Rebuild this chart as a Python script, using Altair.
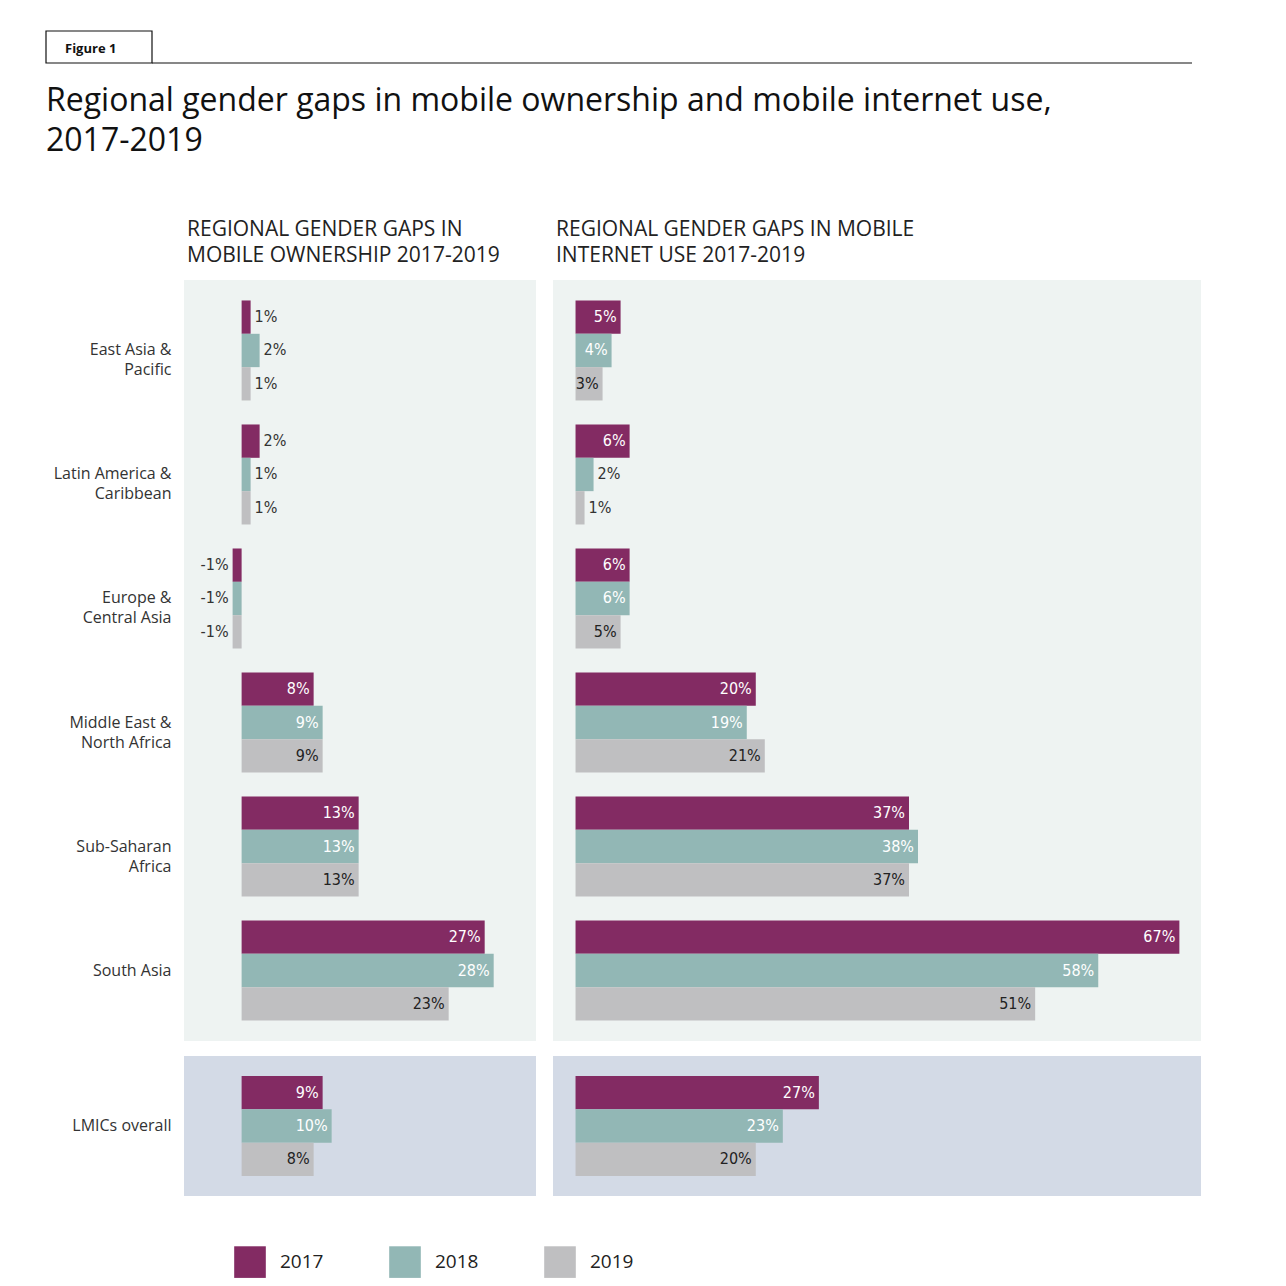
import altair as alt
import pandas as pd

regions = ["East Asia &|Pacific", "Latin America &|Caribbean", "Europe &|Central Asia",
           "Middle East &|North Africa", "Sub-Saharan|Africa", "South Asia"]
years = ["2017", "2018", "2019"]
own = {"2017": [1, 2, -1, 8, 13, 27], "2018": [2, 1, -1, 9, 13, 28], "2019": [1, 1, -1, 9, 13, 23]}
net = {"2017": [5, 6, 6, 20, 37, 67], "2018": [4, 2, 6, 19, 38, 58], "2019": [3, 1, 5, 21, 37, 51]}
lmic_label = "LMICs overall"
lmic_own = [9, 10, 8]
lmic_net = [27, 23, 20]
colors = ["#832b63", "#92b7b5", "#bfbfc1"]
FONT = "Open Sans"
NUMFONT = "Liberation Sans Narrow, DejaVu Sans Condensed, sans-serif"


def frame(vals, regs):
    rows = []
    for y in years:
        for r, v in zip(regs, vals[y]):
            rows.append({"region": r, "year": y, "v": v, "label": f"{v}%"})
    return pd.DataFrame(rows)


def panel(df, domain, width, height, show_axis, title, step_pad, fill, legend=False):
    pi, po = step_pad
    order = list(dict.fromkeys(df["region"]))
    yenc = alt.Y("region:N", sort=order,
                 scale=alt.Scale(paddingInner=pi, paddingOuter=po),
                 axis=alt.Axis(title=None, domain=False, ticks=False, labelFontSize=16,
                               labelFont=FONT, labelColor="#333", labelPadding=13,
                               labelExpr="split(datum.label, '|')", labelLineHeight=20)
                 if show_axis else None)
    xenc = alt.X("v:Q", scale=alt.Scale(domain=domain, nice=False, zero=True), axis=None)
    yoff = alt.YOffset("year:N", sort=years)
    base = alt.Chart(df)
    bars = base.mark_bar().encode(
        x=xenc, y=yenc, yOffset=yoff,
        color=alt.Color("year:N", scale=alt.Scale(domain=years, range=colors),
                        legend=alt.Legend(title=None, orient="bottom", direction="horizontal",
                                          symbolType="square", symbolSize=1000,
                                          symbolStrokeWidth=0, labelFontSize=19,
                                          labelFont=FONT, labelColor="#222",
                                          columnPadding=65, labelOffset=14, offset=0,
                                          padding=50, symbolOffset=0)
                        if legend else None),
    )
    thr = 3
    inside = base.transform_filter(f"abs(datum.v) >= {thr}").mark_text(
        align="right", dx=-4, font=NUMFONT, fontSize=16).encode(
        x=xenc, y=yenc, yOffset=yoff, text="label:N",
        color=alt.condition("datum.year == '2019'", alt.value("#222"), alt.value("white")))
    outp = base.transform_filter(f"datum.v > 0 && datum.v < {thr}").mark_text(
        align="left", dx=4, font=NUMFONT, fontSize=16, color="#333").encode(
        x=xenc, y=yenc, yOffset=yoff, text="label:N")
    outn = base.transform_filter(f"datum.v < 0 && datum.v > -{thr}").mark_text(
        align="right", dx=-4, font=NUMFONT, fontSize=16, color="#333").encode(
        x=xenc, y=yenc, yOffset=yoff, text="label:N")
    props = dict(width=width, height=height, view=alt.ViewBackground(fill=fill, stroke=None))
    if title:
        props["title"] = alt.TitleParams(title, anchor="start", frame="group", fontSize=21,
                                         font=FONT, fontWeight="normal", color="#222",
                                         offset=14, dx=3, lineHeight=26)
    return alt.layer(bars, inside, outp, outn).properties(**props)


top_own = frame(own, regions)
top_net = frame(net, regions)
bot_own = frame({y: [lmic_own[i]] for i, y in enumerate(years)}, [lmic_label])
bot_net = frame({y: [lmic_net[i]] for i, y in enumerate(years)}, [lmic_label])

LDOM = [-6.4, 32.7]
RDOM = [-2.5, 69.4]
top_pad = (0.1935, 0.165)
bot_pad = (0.0, 0.2)
TOPF = "#eef3f2"
BOTF = "#d3dae6"

top = alt.hconcat(
    panel(top_own, LDOM, 352, 761, True, ["REGIONAL GENDER GAPS IN", "MOBILE OWNERSHIP 2017-2019"], top_pad, TOPF, legend=True),
    panel(top_net, RDOM, 648, 761, False, ["REGIONAL GENDER GAPS IN MOBILE", "INTERNET USE 2017-2019"], top_pad, TOPF),
    spacing=17)
bot = alt.hconcat(
    panel(bot_own, LDOM, 352, 140, True, None, bot_pad, BOTF),
    panel(bot_net, RDOM, 648, 140, False, None, bot_pad, BOTF),
    spacing=17)

OX = -138
hdr = pd.DataFrame({"t": ["Figure 1"]})
hb = alt.Chart(hdr)
header = alt.layer(
    hb.mark_rect(fill="white", stroke="#111", strokeWidth=1.2).encode(
        x=alt.value(OX), x2=alt.value(OX + 106), y=alt.value(0), y2=alt.value(32)),
    hb.mark_rule(color="#111", strokeWidth=1.2).encode(
        x=alt.value(OX + 106), x2=alt.value(OX + 1146), y=alt.value(32)),
    hb.mark_text(align="left", baseline="middle", fontSize=13, fontWeight="bold",
                 font=FONT, color="#111").encode(x=alt.value(OX + 19), y=alt.value(18), text="t:N"),
    hb.mark_text(align="left", baseline="alphabetic", fontSize=32, font=FONT, color="#111").encode(
        x=alt.value(OX), y=alt.value(80),
        text=alt.value("Regional gender gaps in mobile ownership and mobile internet use,")),
    hb.mark_text(align="left", baseline="alphabetic", fontSize=32, font=FONT, color="#111").encode(
        x=alt.value(OX), y=alt.value(120), text=alt.value("2017-2019")),
).properties(width=1000, height=130, view=alt.ViewBackground(stroke=None))

body = alt.vconcat(top, bot, spacing=15)
chart = alt.vconcat(header, body, spacing=58).configure(
    background="white", padding={"left": 37, "top": 22, "right": 5, "bottom": 5}
).configure_view(stroke=None)
chart.save("out.html", embed_options={"renderer": "svg", "actions": False})
